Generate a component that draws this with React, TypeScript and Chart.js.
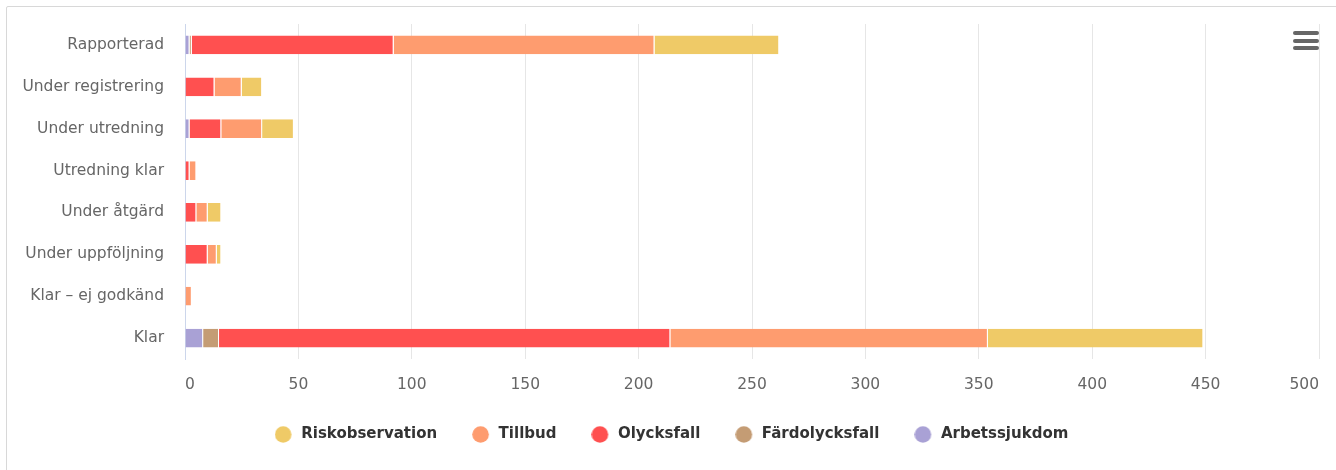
import React, { useEffect, useRef } from "react";
import { Chart, registerables } from "chart.js";

Chart.register(...registerables);

const categories = [
  "Rapporterad",
  "Under registrering",
  "Under utredning",
  "Utredning klar",
  "Under åtgärd",
  "Under uppföljning",
  "Klar – ej godkänd",
  "Klar",
];

const arbetssjukdom = [2, 0, 2, 0, 0, 0, 0, 8];
const fardolycksfall = [1, 0, 0, 0, 0, 0, 0, 7];
const olycksfall = [89, 13, 14, 2, 5, 10, 0, 199];
const tillbud = [115, 12, 18, 3, 5, 4, 3, 140];
const riskobservation = [55, 9, 14, 0, 6, 2, 0, 95];

const xMin = 0;
const xMax = 500;
const xStep = 50;

const FONT = "'DejaVu Sans', sans-serif";

// legend marker: a filled circle with a little empty room on its right
function makeMarker(color: string): HTMLCanvasElement {
  const c = document.createElement("canvas");
  c.width = 19;
  c.height = 17;
  const g = c.getContext("2d");
  if (g) {
    g.fillStyle = color;
    g.beginPath();
    g.arc(8.5, 8.5, 8.3, 0, Math.PI * 2);
    g.fill();
  }
  return c;
}

export default function App() {
  const canvasRef = useRef<HTMLCanvasElement | null>(null);

  useEffect(() => {
    if (!canvasRef.current) return;
    const ds = (label: string, data: number[], color: string) => ({
      label,
      data,
      backgroundColor: color,
      borderColor: "#ffffff",
      borderWidth: { top: 0, bottom: 0, left: 0, right: 1 },
      borderSkipped: false as const,
      barPercentage: 0.445,
      categoryPercentage: 1,
      pointStyle: makeMarker(color),
    });
    const chart = new Chart(canvasRef.current, {
      type: "bar",
      data: {
        labels: categories,
        datasets: [
          ds("Arbetssjukdom", arbetssjukdom, "#a9a1d5"),
          ds("Färdolycksfall", fardolycksfall, "#c49c74"),
          ds("Olycksfall", olycksfall, "#ff5050"),
          ds("Tillbud", tillbud, "#fe9c6f"),
          ds("Riskobservation", riskobservation, "#efca67"),
        ],
      },
      options: {
        indexAxis: "y",
        animation: false,
        responsive: false,
        maintainAspectRatio: false,
        layout: { padding: { top: 24, right: 14, bottom: 18, left: 21 } },
        scales: {
          x: {
            stacked: true,
            min: xMin,
            max: xMax,
            grid: { color: "#e6e6e6", drawTicks: false, lineWidth: 1 },
            border: { display: false },
            ticks: {
              stepSize: xStep,
              align: "inner",
              padding: 17,
              color: "#666666",
              font: { family: FONT, size: 15.5 },
            },
            afterFit: (scale: any) => {
              scale.height = 33;
            },
          },
          y: {
            stacked: true,
            grid: { display: false, drawTicks: false },
            border: { display: true, color: "#ccd6eb", width: 1 },
            ticks: {
              padding: 21,
              color: "#666666",
              font: { family: FONT, size: 15.5 },
            },
            afterFit: (scale: any) => {
              scale.width = 164;
              scale.paddingTop = 0;
              scale.paddingBottom = 0;
            },
          },
        },
        plugins: {
          tooltip: { enabled: false },
          legend: {
            position: "bottom",
            reverse: true,
            labels: {
              usePointStyle: true,
              pointStyleWidth: 19,
              boxHeight: 15,
              padding: 35,
              color: "#333333",
              font: { family: FONT, size: 15, weight: "bold" },
            },
          },
        },
      },
    } as any);
    return () => chart.destroy();
  }, []);

  return (
    <div
      style={{
        position: "fixed",
        left: 0,
        top: 0,
        width: 1336,
        height: 470,
        overflow: "hidden",
        background: "#ffffff",
      }}
    >
      <div
        style={{
          position: "absolute",
          left: 6,
          top: 6,
          width: 1400,
          height: 500,
          border: "1px solid #d8d8d8",
          borderRadius: 2,
          boxSizing: "border-box",
        }}
      />
      <canvas
        ref={canvasRef}
        width={1336}
        height={470}
        style={{ position: "absolute", left: 0, top: 0, width: 1336, height: 470 }}
      />
      {[31, 38.5, 46].map((t) => (
        <div
          key={t}
          style={{
            position: "absolute",
            left: 1293,
            top: t,
            width: 26,
            height: 4,
            borderRadius: 2,
            background: "#666666",
          }}
        />
      ))}
    </div>
  );
}
